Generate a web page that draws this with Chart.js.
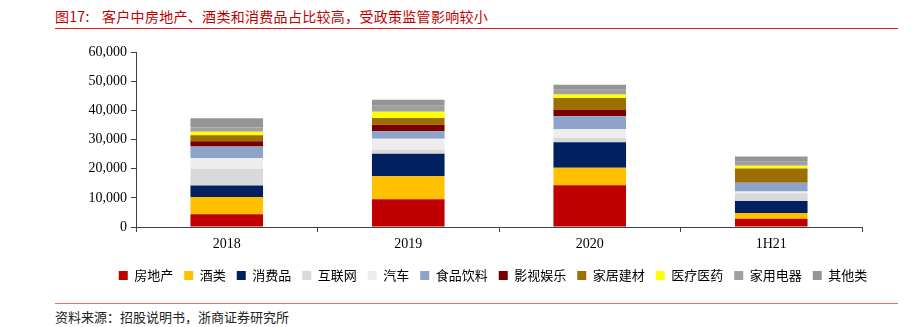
<!DOCTYPE html>
<html>
<head>
<meta charset="utf-8">
<script src="https://cdn.jsdelivr.net/npm/chart.js@4/dist/chart.umd.min.js"></script>
<style>
  body { margin: 0; background: #fff; width: 916px; height: 327px; position: relative; overflow: hidden; }
  #title { position: absolute; left: 55px; top: 6px; font: 14px "Noto Sans CJK SC", sans-serif; color: #C00000; white-space: pre; letter-spacing: 0.3px; }
  #title span { display: inline-block; width: 47px; }
  #topLine { position: absolute; left: 55px; top: 28px; width: 843px; height: 1px; background: #E02020; }
  #bottomLine { position: absolute; left: 55px; top: 303px; width: 843px; height: 1px; background: #E07070; }
  #source { position: absolute; left: 55px; top: 307px; font: 13px "Noto Sans CJK SC", sans-serif; color: #222; }
  #wrap { position: absolute; left: 70px; top: 38px; }
</style>
</head>
<body>
<div id="title"><span>图17:</span>客户中房地产、酒类和消费品占比较高，受政策监管影响较小</div>
<div id="topLine"></div>
<div id="wrap"><canvas id="barChart" width="846" height="254"></canvas></div>
<div id="bottomLine"></div>
<div id="source">资料来源：招股说明书，浙商证券研究所</div>
<script>
  var categories = ["2018", "2019", "2020", "1H21"];
  var seriesNames = ["房地产", "酒类", "消费品", "互联网", "汽车", "食品饮料", "影视娱乐", "家居建材", "医疗医药", "家用电器", "其他类"];

  var realEstate = [4400, 9500, 14300, 2800];
  var liquor = [5900, 7900, 6000, 2000];
  var consumer = [3900, 7700, 8800, 4100];
  var internet = [5800, 1400, 1400, 2700];
  var auto = [3700, 3800, 3000, 600];
  var foodBev = [3900, 2500, 4500, 3000];
  var media = [1800, 2300, 2100, 0];
  var homeBuild = [2100, 2300, 4100, 4900];
  var medical = [1200, 2100, 1200, 900];
  var appliance = [1400, 2100, 1700, 1400];
  var others = [3200, 2000, 1700, 1800];

  var yTicks = [0, 10000, 20000, 30000, 40000, 50000, 60000];

  var seriesValues = [realEstate, liquor, consumer, internet, auto, foodBev, media, homeBuild, medical, appliance, others];
  var colors = ["#C00000", "#FFC000", "#002060", "#D9D9D9", "#EDEDED", "#8EA3C9", "#7A0000", "#9C7000", "#FFFF00", "#A0A0A0", "#959595"];

  var datasets = [];
  for (var i = 0; i < seriesNames.length; i++) {
    datasets.push({
      label: seriesNames[i],
      data: seriesValues[i],
      backgroundColor: colors[i],
      borderWidth: 0,
      barPercentage: 0.4,
      categoryPercentage: 1.0
    });
  }

  // center the legend on the whole canvas, not only the padded area
  var legendShift = {
    id: "legendShift",
    afterLayout: function (chart) {
      chart.legend.left = 0;
      chart.legend.right = chart.width;
    }
  };

  var ctx = document.getElementById("barChart").getContext("2d");
  var myBarChart = new Chart(ctx, {
    type: "bar",
    data: { labels: categories, datasets: datasets },
    plugins: [legendShift],
    options: {
      responsive: false,
      animation: false,
      devicePixelRatio: 1,
      layout: { padding: { top: 14, right: 54, bottom: 0, left: 0 } },
      plugins: {
        tooltip: { enabled: false },
        legend: {
          position: "bottom",
          labels: {
            boxWidth: 9,
            boxHeight: 9,
            padding: 11,
            color: "#000",
            font: { family: "Noto Sans CJK SC", size: 13 }
          }
        }
      },
      scales: {
        x: {
          stacked: true,
          offset: true,
          grid: { display: true, drawOnChartArea: false, offset: true, tickLength: 5, color: "#404040" },
          border: { color: "#404040", width: 1 },
          ticks: { color: "#000", padding: 4, font: { family: "Liberation Serif", size: 14 } },
          afterFit: function (scale) { scale.height = 31; }
        },
        y: {
          stacked: true,
          min: 0,
          max: 60000,
          afterBuildTicks: function (scale) {
            scale.ticks = yTicks.map(function (v) { return { value: v }; });
          },
          grid: { display: true, drawOnChartArea: false, tickLength: 5, color: "#404040" },
          border: { color: "#404040", width: 1 },
          ticks: {
            color: "#000",
            padding: 4,
            font: { family: "Liberation Serif", size: 14 },
            callback: function (v) { return v.toLocaleString("en-US"); }
          },
          afterFit: function (scale) { scale.width = 66; }
        }
      }
    }
  });
</script>
</body>
</html>
